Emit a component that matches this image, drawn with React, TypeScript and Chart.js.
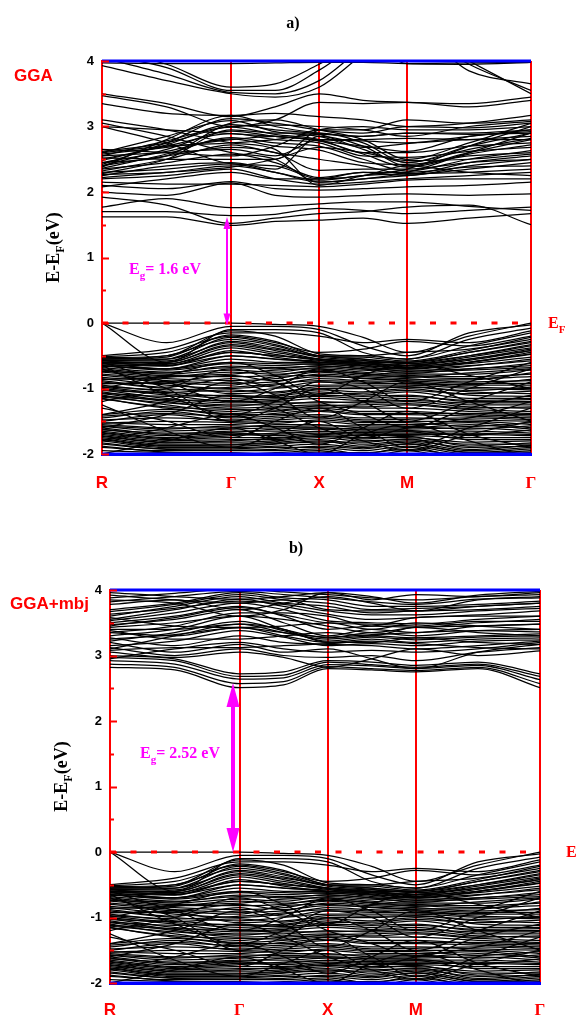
import React, { useEffect, useRef } from 'react';
import { Chart, registerables } from 'chart.js';

Chart.register(...registerables);

// k-path: high-symmetry points and the sample positions of every band
const K_POINTS = [0, 1.47, 2.47, 3.47, 4.88];
const K_LABELS = ['R', 'Γ', 'X', 'M', 'Γ'];
// samples: R, mid, Γ, mid, X, mid, M, mid, Γ
const K_SAMPLES = [0, 0.735, 1.47, 1.97, 2.47, 2.97, 3.47, 4.175, 4.88];
const E_MIN = -2;
const E_MAX = 4;
const E_FERMI = 0;

// valence bands (same in both panels)
const VALENCE_BANDS = [
  [0, 0, 0, -0.02, -0.05, -0.22, -0.45, -0.2, 0],
  [0, -0.3, -0.05, -0.05, -0.1, -0.35, -0.5, -0.15, -0.03],
  [0, -0.6, -0.1, -0.1, -0.15, -0.45, -0.55, -0.25, -0.08],
  [-0.5, -0.4, -0.15, -0.15, -0.2, -0.3, -0.25, -0.3, -0.12],
  [-0.52, -0.45, -0.2, -0.3, -0.45, -0.4, -0.28, -0.35, -0.2],
  [-0.55, -0.5, -0.25, -0.35, -0.5, -0.5, -0.45, -0.4, -0.25],
  [-0.55, -0.55, -0.3, -0.4, -0.5, -0.55, -0.6, -0.45, -0.3],
  [-0.6, -0.6, -0.35, -0.45, -0.55, -0.6, -0.6, -0.5, -0.35],
  [-0.6, -0.65, -0.45, -0.5, -0.55, -0.6, -0.65, -0.55, -0.4],
  [-0.65, -0.7, -0.5, -0.55, -0.6, -0.62, -0.7, -0.6, -0.45],
  [-0.53, -0.5, -0.12, -0.2, -0.47, -0.5, -0.55, -0.35, -0.15],
  [-0.55, -0.52, -0.18, -0.28, -0.5, -0.52, -0.58, -0.42, -0.22],
  [-0.57, -0.55, -0.22, -0.33, -0.5, -0.55, -0.6, -0.45, -0.28],
  [-0.58, -0.58, -0.28, -0.38, -0.52, -0.57, -0.62, -0.5, -0.33],
  [-0.6, -0.6, -0.33, -0.42, -0.55, -0.6, -0.65, -0.52, -0.38],
  [-0.62, -0.63, -0.38, -0.48, -0.57, -0.62, -0.67, -0.57, -0.42],
  [-0.64, -0.66, -0.42, -0.52, -0.6, -0.64, -0.7, -0.6, -0.47],
  [-0.58, -0.62, -0.45, -0.5, -0.55, -0.58, -0.62, -0.55, -0.42],
  [-0.6, -0.65, -0.5, -0.55, -0.58, -0.62, -0.65, -0.6, -0.48],
  [-0.62, -0.7, -0.55, -0.6, -0.6, -0.65, -0.68, -0.62, -0.52],
  [-0.65, -0.72, -0.62, -0.65, -0.62, -0.68, -0.7, -0.65, -0.58],
  [-0.66, -0.7, -0.6, -0.62, -0.63, -0.66, -0.74, -0.66, -0.55],
  [-0.68, -0.75, -0.68, -0.7, -0.65, -0.7, -0.72, -0.7, -0.62],
  [-0.7, -0.78, -0.72, -0.75, -0.68, -0.72, -0.75, -0.72, -0.68],
  [-0.72, -0.8, -0.78, -0.72, -0.7, -0.75, -0.78, -0.78, -0.72],
  [-0.74, -0.76, -0.66, -0.68, -0.66, -0.7, -0.77, -0.7, -0.65],
  [-0.75, -0.82, -0.82, -0.8, -0.72, -0.78, -0.8, -0.82, -0.78],
  [-0.78, -0.85, -0.88, -0.85, -0.75, -0.8, -0.82, -0.85, -0.82],
  [-0.8, -0.88, -0.92, -0.9, -0.78, -0.82, -0.85, -0.9, -0.88],
  [-0.83, -0.9, -0.95, -0.82, -0.8, -0.85, -0.88, -0.92, -0.92],
  [-0.86, -0.83, -0.75, -0.78, -0.74, -0.77, -0.83, -0.76, -0.7],
  [-0.85, -0.95, -1.0, -0.95, -0.85, -0.88, -0.9, -0.95, -0.95],
  [-0.88, -0.98, -0.85, -0.98, -0.9, -0.92, -0.92, -0.98, -1.0],
  [-0.9, -1.0, -1.05, -1.0, -0.95, -0.95, -0.95, -1.0, -1.02],
  [-0.93, -0.9, -0.8, -0.88, -0.82, -0.84, -0.87, -0.87, -0.76],
  [-0.92, -0.92, -1.08, -1.05, -1.0, -1.0, -0.98, -1.05, -1.08],
  [-0.95, -1.05, -1.12, -1.1, -1.02, -1.05, -1.0, -1.1, -1.12],
  [-0.97, -1.02, -0.98, -0.93, -0.88, -0.9, -0.93, -0.94, -0.86],
  [-0.98, -1.08, -1.15, -1.12, -1.05, -1.1, -1.05, -1.15, -1.15],
  [-1.0, -1.1, -1.2, -1.18, -1.1, -1.12, -1.1, -1.2, -1.2],
  [-1.03, -1.06, -1.02, -1.07, -0.97, -0.98, -0.97, -1.03, -0.98],
  [-1.02, -1.15, -1.22, -1.2, -1.15, -1.18, -1.15, -1.25, -1.25],
  [-1.05, -1.18, -1.25, -1.25, -1.2, -1.22, -1.2, -1.28, -1.3],
  [-1.07, -1.12, -1.1, -1.14, -1.08, -1.07, -1.03, -1.08, -1.04],
  [-1.08, -1.2, -1.3, -1.28, -1.25, -1.28, -1.25, -1.32, -1.35],
  [-1.1, -1.25, -1.35, -1.3, -1.28, -1.3, -1.3, -1.35, -1.38],
  [-1.12, -1.17, -1.18, -1.16, -1.12, -1.15, -1.12, -1.18, -1.17],
  [-1.13, -1.22, -1.27, -1.22, -1.22, -1.2, -1.18, -1.22, -1.22],
  [-1.15, -1.3, -1.38, -1.35, -1.3, -1.35, -1.35, -1.4, -1.42],
  [-1.16, -1.28, -1.32, -1.33, -1.26, -1.25, -1.23, -1.3, -1.28],
  [-1.4, -1.32, -1.4, -1.4, -1.35, -1.4, -1.4, -1.42, -1.45],
  [-1.42, -1.38, -1.43, -1.38, -1.33, -1.38, -1.38, -1.38, -1.4],
  [-1.45, -1.35, -1.45, -1.42, -1.4, -1.45, -1.45, -1.48, -1.5],
  [-1.48, -1.45, -1.48, -1.45, -1.42, -1.48, -1.47, -1.45, -1.47],
  [-1.5, -1.4, -1.5, -1.48, -1.45, -1.5, -1.5, -1.5, -1.55],
  [-1.52, -1.55, -1.55, -1.5, -1.5, -1.55, -1.55, -1.52, -1.6],
  [-1.53, -1.5, -1.52, -1.53, -1.48, -1.52, -1.52, -1.58, -1.52],
  [-1.55, -1.6, -1.6, -1.55, -1.55, -1.6, -1.6, -1.55, -1.62],
  [-1.57, -1.62, -1.57, -1.58, -1.57, -1.57, -1.58, -1.62, -1.57],
  [-1.58, -1.65, -1.62, -1.6, -1.6, -1.62, -1.62, -1.6, -1.65],
  [-1.6, -1.7, -1.65, -1.65, -1.62, -1.65, -1.65, -1.65, -1.68],
  [-1.62, -1.72, -1.68, -1.7, -1.65, -1.68, -1.68, -1.68, -1.7],
  [-1.63, -1.68, -1.67, -1.62, -1.6, -1.63, -1.64, -1.72, -1.63],
  [-1.65, -1.75, -1.7, -1.72, -1.68, -1.7, -1.7, -1.7, -1.72],
  [-1.67, -1.76, -1.72, -1.68, -1.66, -1.67, -1.66, -1.78, -1.78],
  [-1.68, -1.78, -1.75, -1.75, -1.7, -1.72, -1.72, -1.75, -1.75],
  [-1.7, -1.8, -1.78, -1.78, -1.72, -1.75, -1.75, -1.82, -1.8],
  [-1.72, -1.82, -1.82, -1.8, -1.75, -1.8, -1.78, -1.85, -1.85],
  [-1.73, -1.83, -1.8, -1.76, -1.73, -1.77, -1.73, -1.88, -1.83],
  [-1.75, -1.85, -1.85, -1.82, -1.78, -1.85, -1.8, -1.9, -1.88],
  [-1.77, -1.87, -1.86, -1.84, -1.82, -1.82, -1.77, -1.93, -1.87],
  [-1.78, -1.88, -1.88, -1.85, -1.8, -1.88, -1.82, -1.95, -1.9],
  [-1.8, -1.9, -1.9, -1.88, -1.85, -1.9, -1.85, -1.98, -1.92],
  [-1.83, -1.93, -1.94, -1.93, -1.88, -1.92, -1.84, -1.97, -1.97],
  [-1.85, -1.92, -1.92, -1.9, -1.9, -1.95, -1.88, -2.0, -1.95],
  [-1.88, -1.97, -1.98, -2.0, -1.97, -1.98, -1.93, -2.02, -2.0],
  [-1.9, -1.95, -1.95, -1.95, -1.92, -2.0, -1.9, -2.05, -1.98],
  [-1.95, -1.98, -2.0, -1.98, -1.95, -2.05, -1.95, -2.1, -2.02],
  [-0.6, -0.9, -1.2, -1.0, -0.7, -0.9, -1.2, -0.9, -0.6],
  [-1.0, -0.8, -0.6, -0.8, -1.1, -0.8, -0.62, -0.8, -1.0],
  [-1.3, -1.5, -1.75, -1.5, -1.3, -1.6, -1.9, -1.6, -1.3],
  [-1.8, -1.6, -1.4, -1.6, -1.85, -1.6, -1.35, -1.7, -1.9],
  [-0.7, -1.0, -1.5, -1.3, -1.0, -1.2, -1.5, -1.2, -0.9],
  [-1.2, -1.0, -0.7, -0.9, -1.2, -1.4, -1.6, -1.3, -1.1],
  [-1.6, -1.4, -1.1, -1.3, -1.6, -1.8, -1.95, -1.7, -1.5],
  [-2.0, -1.8, -1.6, -1.8, -2.0, -1.7, -1.55, -1.8, -2.05],
  [-0.65, -1.1, -1.4, -1.2, -0.9, -1.0, -1.3, -1.0, -0.7],
  [-1.4, -1.2, -0.9, -1.1, -1.45, -1.2, -0.9, -1.2, -1.5],
  [-1.25, -1.65, -1.9, -1.7, -1.5, -1.75, -1.6, -1.45, -1.2],
];

// conduction bands, GGA
const CONDUCTION_GGA = [
  [1.62, 1.62, 1.49, 1.55, 1.57, 1.6, 1.52, 1.6, 1.67],
  [1.92, 1.8, 1.52, 1.6, 1.67, 1.7, 1.77, 1.8, 1.5],
  [1.7, 1.7, 1.64, 1.66, 1.75, 1.72, 1.67, 1.72, 1.77],
  [1.77, 1.9, 1.76, 1.78, 1.82, 1.85, 1.85, 1.78, 1.72],
  [2.0, 1.95, 2.14, 1.95, 1.92, 1.95, 1.97, 1.95, 1.97],
  [2.1, 2.05, 2.16, 2.05, 2.03, 2.05, 2.08, 2.1, 2.15],
  [2.15, 2.12, 2.12, 2.1, 2.08, 2.12, 2.18, 2.2, 2.2],
  [2.2, 2.25, 2.35, 2.2, 2.12, 2.15, 2.2, 2.25, 2.3],
  [2.22, 2.3, 2.38, 2.5, 2.68, 2.6, 2.48, 2.5, 2.58],
  [2.27, 2.3, 2.4, 2.3, 2.15, 2.2, 2.25, 2.35, 2.45],
  [2.3, 2.35, 2.43, 2.3, 2.18, 2.25, 2.28, 2.3, 2.35],
  [2.32, 2.5, 2.72, 2.6, 2.5, 2.4, 2.27, 2.45, 2.55],
  [2.35, 2.45, 2.58, 2.45, 2.22, 2.3, 2.3, 2.38, 2.4],
  [2.36, 2.58, 2.83, 2.75, 2.7, 2.5, 2.32, 2.5, 2.63],
  [2.4, 2.55, 2.68, 2.6, 2.33, 2.35, 2.35, 2.45, 2.5],
  [2.4, 2.65, 2.93, 2.85, 2.78, 2.58, 2.38, 2.58, 2.72],
  [2.45, 2.62, 2.81, 2.7, 2.64, 2.45, 2.42, 2.55, 2.6],
  [2.48, 2.72, 3.03, 2.95, 2.88, 2.65, 2.45, 2.65, 2.82],
  [2.5, 2.7, 2.89, 2.8, 2.75, 2.55, 2.53, 2.62, 2.68],
  [2.52, 2.5, 2.5, 2.5, 2.95, 3.0, 2.95, 2.95, 3.0],
  [2.55, 2.78, 2.99, 2.88, 2.8, 2.6, 2.6, 2.7, 2.75],
  [2.58, 2.68, 2.8, 2.85, 2.78, 2.7, 2.62, 2.85, 2.92],
  [2.6, 2.85, 3.09, 2.92, 2.85, 2.68, 2.74, 2.8, 2.85],
  [2.62, 2.75, 3.0, 3.02, 3.0, 2.95, 2.85, 3.0, 3.08],
  [2.38, 2.8, 3.17, 3.0, 2.9, 2.85, 2.9, 2.9, 2.95],
  [2.42, 2.75, 3.12, 3.05, 2.95, 2.9, 3.0, 2.98, 3.05],
  [2.65, 2.6, 2.55, 2.7, 2.95, 2.95, 3.1, 3.05, 3.1],
  [3.0, 2.75, 2.43, 2.4, 2.2, 2.3, 2.25, 2.4, 2.5],
  [3.05, 2.85, 2.6, 2.5, 2.15, 2.2, 2.3, 2.6, 2.9],
  [3.1, 2.95, 2.75, 2.65, 2.1, 2.25, 2.35, 2.7, 3.0],
  [2.25, 2.4, 2.45, 2.35, 2.85, 2.7, 2.4, 2.6, 2.8],
  [2.28, 2.5, 2.95, 2.9, 2.9, 2.75, 2.45, 2.7, 2.9],
  [2.45, 2.55, 3.05, 3.1, 2.95, 2.8, 2.5, 2.75, 3.05],
  [3.35, 3.2, 3.17, 3.2, 3.15, 3.1, 3.0, 3.05, 3.17],
  [3.47, 3.3, 3.0, 3.1, 3.37, 3.35, 3.37, 3.3, 3.4],
  [3.5, 3.35, 3.15, 3.3, 3.5, 3.4, 3.37, 3.35, 3.45],
  [3.93, 3.7, 3.5, 3.45, 3.6, 4.1, 4.5, 4.0, 3.5],
  [4.05, 3.8, 3.52, 3.5, 3.7, 4.2, 4.5, 3.95, 3.55],
  [4.1, 3.9, 3.55, 3.55, 3.86, 4.3, 4.5, 3.85, 3.65],
  [4.2, 3.95, 3.6, 3.65, 3.95, 4.3, 3.96, 3.95, 3.98],
  [3.97, 3.96, 3.96, 3.97, 3.98, 3.98, 3.96, 3.97, 3.98],
  [3.0, 2.95, 2.89, 2.85, 2.8, 2.78, 2.75, 2.85, 2.95],
  [2.08, 2.2, 2.3, 2.2, 2.2, 2.25, 2.4, 2.3, 2.25],
  [2.55, 2.6, 2.65, 2.55, 2.8, 2.8, 2.82, 2.8, 2.8],
  [2.6, 2.7, 2.75, 2.8, 2.88, 2.85, 2.9, 2.88, 2.9],
];

// conduction bands, GGA+mbj
const CONDUCTION_MBJ = [
  [2.82, 2.78, 2.51, 2.55, 2.8, 2.78, 2.75, 2.8, 2.51],
  [2.87, 2.82, 2.57, 2.6, 2.83, 2.8, 2.77, 2.82, 2.57],
  [2.92, 2.87, 2.64, 2.66, 2.86, 2.84, 2.8, 2.85, 2.63],
  [2.97, 2.92, 2.68, 2.7, 2.9, 2.86, 2.82, 2.87, 2.68],
  [3.0, 2.95, 2.72, 2.75, 2.92, 2.9, 2.85, 2.9, 2.72],
  [2.95, 3.1, 3.2, 3.1, 3.05, 3.08, 3.05, 3.1, 3.2],
  [3.05, 2.97, 3.05, 2.97, 2.82, 2.95, 3.1, 3.0, 3.07],
  [3.08, 3.12, 3.12, 3.15, 3.18, 3.22, 3.18, 3.12, 3.1],
  [3.12, 3.0, 3.1, 3.0, 2.97, 3.0, 2.92, 3.05, 3.12],
  [3.15, 3.22, 3.38, 3.28, 3.15, 3.18, 3.15, 3.22, 3.24],
  [3.2, 3.05, 3.17, 3.05, 3.1, 2.95, 2.8, 3.05, 3.17],
  [3.22, 3.35, 3.52, 3.38, 3.22, 3.28, 3.24, 3.28, 3.3],
  [3.25, 3.32, 3.42, 3.35, 3.28, 3.32, 3.35, 3.38, 3.36],
  [3.27, 3.15, 3.3, 3.2, 3.17, 3.15, 3.1, 3.15, 3.22],
  [3.35, 3.3, 3.43, 3.3, 3.2, 3.25, 3.2, 3.25, 3.27],
  [3.4, 3.4, 3.48, 3.35, 3.25, 3.3, 3.27, 3.3, 3.33],
  [3.43, 3.5, 3.6, 3.4, 3.27, 3.35, 3.3, 3.38, 3.4],
  [3.45, 3.58, 3.73, 3.62, 3.5, 3.48, 3.45, 3.52, 3.52],
  [3.47, 3.55, 3.7, 3.5, 3.3, 3.4, 3.35, 3.45, 3.48],
  [3.5, 3.6, 3.75, 3.6, 3.4, 3.45, 3.43, 3.5, 3.55],
  [3.53, 3.65, 3.8, 3.7, 3.53, 3.5, 3.48, 3.55, 3.6],
  [3.55, 3.7, 3.86, 3.75, 3.63, 3.55, 3.58, 3.62, 3.68],
  [3.6, 3.75, 3.9, 3.8, 3.75, 3.65, 3.68, 3.7, 3.75],
  [3.63, 3.72, 3.83, 3.78, 3.68, 3.62, 3.62, 3.68, 3.72],
  [3.67, 3.78, 3.93, 3.85, 3.8, 3.7, 3.72, 3.75, 3.8],
  [3.7, 3.8, 3.96, 3.88, 3.85, 3.75, 3.75, 3.78, 3.83],
  [3.78, 3.85, 3.7, 3.8, 3.9, 3.8, 3.68, 3.85, 3.9],
  [3.82, 3.9, 3.98, 3.93, 3.88, 3.82, 3.78, 3.86, 3.88],
  [3.85, 3.8, 3.6, 3.7, 3.96, 3.85, 3.93, 3.9, 3.96],
  [3.88, 3.95, 4.02, 3.97, 3.93, 3.88, 3.85, 3.9, 3.93],
  [3.96, 3.9, 3.86, 3.9, 3.96, 3.9, 3.8, 3.92, 3.98],
  [3.3, 3.4, 3.6, 3.55, 3.45, 3.35, 3.43, 3.45, 3.48],
  [3.35, 3.45, 3.65, 3.65, 3.6, 3.45, 3.58, 3.6, 3.6],
  [3.1, 3.3, 3.48, 3.4, 3.2, 3.2, 3.27, 3.2, 3.17],
  [3.38, 3.25, 3.25, 3.3, 3.35, 3.3, 3.43, 3.35, 3.3],
  [3.58, 3.45, 3.43, 3.45, 3.5, 3.4, 3.5, 3.45, 3.4],
  [3.92, 3.85, 3.8, 3.85, 3.7, 3.68, 3.68, 3.75, 3.8],
];

// band-gap arrows: [k position, lower energy, upper energy]
const GAP_GGA = [1.422, -0.04, 1.62];
const GAP_MBJ = [1.396, 0, 2.58];
const GAP_TEXT_GGA = '= 1.6 eV';
const GAP_TEXT_MBJ = '= 2.52 eV';

const SERIF = '"Liberation Serif", "Times New Roman", serif';
const SANS = '"Liberation Sans", Arial, sans-serif';

type Part = [string, boolean];

function drawRich(ctx: CanvasRenderingContext2D, parts: Part[], x: number, y: number, size: number, family: string, color: string, align: 'left' | 'center' = 'left') {
  ctx.save();
  ctx.fillStyle = color;
  ctx.textBaseline = 'alphabetic';
  ctx.textAlign = 'left';
  const subSize = Math.round(size * 0.68);
  let total = 0;
  for (const [t, sub] of parts) {
    ctx.font = `bold ${sub ? subSize : size}px ${family}`;
    total += ctx.measureText(t).width;
  }
  let cx = align === 'center' ? x - total / 2 : x;
  for (const [t, sub] of parts) {
    ctx.font = `bold ${sub ? subSize : size}px ${family}`;
    ctx.fillText(t, cx, sub ? y + size * 0.3 : y);
    cx += ctx.measureText(t).width;
  }
  ctx.restore();
}

function drawArrow(ctx: CanvasRenderingContext2D, x: number, yTop: number, yBot: number, lw: number, hw: number, hl: number, color: string) {
  ctx.save();
  ctx.strokeStyle = color;
  ctx.fillStyle = color;
  ctx.lineWidth = lw;
  ctx.beginPath();
  ctx.moveTo(x, yTop + hl * 0.8);
  ctx.lineTo(x, yBot - hl * 0.8);
  ctx.stroke();
  ctx.beginPath();
  ctx.moveTo(x, yTop);
  ctx.lineTo(x - hw / 2, yTop + hl);
  ctx.lineTo(x + hw / 2, yTop + hl);
  ctx.closePath();
  ctx.fill();
  ctx.beginPath();
  ctx.moveTo(x, yBot);
  ctx.lineTo(x - hw / 2, yBot - hl);
  ctx.lineTo(x + hw / 2, yBot - hl);
  ctx.closePath();
  ctx.fill();
  ctx.restore();
}

interface PanelCfg {
  title: string; titleX: number; titleY: number;
  method: string; methodX: number; methodY: number;
  conduction: number[][];
  gap: number[]; gapText: string; gapX: number; gapY: number;
  shaft: number; headW: number; headL: number;
  efX: number;
  width: number; height: number; top: number;
  axisH: number; labelPad: number;
  pad: { left: number; right: number; top: number; bottom: number };
}

const PANELS: PanelCfg[] = [
  {
    title: 'a)', titleX: 293, titleY: 28,
    method: 'GGA', methodX: 14, methodY: 81,
    conduction: CONDUCTION_GGA,
    gap: GAP_GGA, gapText: GAP_TEXT_GGA, gapX: 129, gapY: 274,
    shaft: 2, headW: 7, headL: 12,
    efX: 548,
    width: 577, height: 508, top: 0,
    axisH: 44, labelPad: 19,
    pad: { left: 62, right: 46, top: 61, bottom: 10 },
  },
  {
    title: 'b)', titleX: 296, titleY: 45,
    method: 'GGA+mbj', methodX: 10, methodY: 101,
    conduction: CONDUCTION_MBJ,
    gap: GAP_MBJ, gapText: GAP_TEXT_MBJ, gapX: 140, gapY: 250,
    shaft: 4, headW: 13, headL: 24,
    efX: 566,
    width: 577, height: 509, top: 508,
    axisH: 34, labelPad: 17,
    pad: { left: 70, right: 37, top: 82, bottom: 0 },
  },
];

function makeChart(canvas: HTMLCanvasElement, p: PanelCfg) {
  const bands = [...VALENCE_BANDS, ...p.conduction];
  const datasets: any[] = [
    {
      data: [{ x: K_POINTS[0], y: E_FERMI }, { x: K_POINTS[K_POINTS.length - 1], y: E_FERMI }],
      borderColor: '#ff0000', borderWidth: 3, borderDash: [6, 14.5], order: -1,
      cubicInterpolationMode: 'default', tension: 0,
    },
    ...bands.map((b) => ({
      data: b.map((y, i) => ({ x: K_SAMPLES[i], y })),
      borderColor: '#000000', borderWidth: 1.25, order: 1,
    })),
  ];

  const decor = {
    id: 'decor',
    afterDatasetsDraw(chart: any) {
      const { ctx, chartArea: a, scales } = chart;
      const ys = scales.y;
      ctx.save();
      // top and bottom frame (blue)
      ctx.strokeStyle = '#0000ff';
      ctx.lineWidth = 3;
      ctx.beginPath();
      ctx.moveTo(a.left, a.top);
      ctx.lineTo(a.right, a.top);
      ctx.moveTo(a.left, a.bottom);
      ctx.lineTo(a.right, a.bottom);
      ctx.stroke();
      // inward ticks on the left axis
      ctx.strokeStyle = '#ff0000';
      ctx.lineWidth = 2;
      for (let v = E_MIN; v <= E_MAX + 1e-9; v += 0.5) {
        const y = Math.round(ys.getPixelForValue(v)) + 0.5;
        const len = Math.abs(v - Math.round(v)) < 1e-6 ? 7 : 4;
        ctx.beginPath();
        ctx.moveTo(a.left, y);
        ctx.lineTo(a.left + len, y);
        ctx.stroke();
      }
      ctx.restore();
      // gap arrow
      const [gk, g0, g1] = p.gap;
      drawArrow(ctx, scales.x.getPixelForValue(gk), ys.getPixelForValue(g1), ys.getPixelForValue(g0), p.shaft, p.headW, p.headL, '#ff00ff');
    },
    afterDraw(chart: any) {
      const { ctx, chartArea: a, scales } = chart;
      const y0 = scales.y.getPixelForValue(E_FERMI);
      drawRich(ctx, [[p.title, false]], p.titleX, p.titleY, 16, SERIF, '#000000', 'center');
      drawRich(ctx, [[p.method, false]], p.methodX, p.methodY, 17, SANS, '#ff0000');
      drawRich(ctx, [['E', false], ['g', true], [p.gapText, false]], p.gapX, p.gapY, 16, SERIF, '#ff00ff');
      drawRich(ctx, [['E', false], ['F', true]], p.efX, y0 + 5, 16, SERIF, '#ff0000');
      // y-axis title, rotated
      ctx.save();
      ctx.translate(a.left - 43, (a.top + a.bottom) / 2 - 10);
      ctx.rotate(-Math.PI / 2);
      drawRich(ctx, [['E-E', false], ['F', true], ['(eV)', false]], 0, 0, 18, SERIF, '#000000', 'center');
      ctx.restore();
    },
  };

  return new Chart(canvas, {
    type: 'line',
    data: { datasets },
    options: {
      responsive: false,
      animation: false,
      events: [],
      layout: { padding: p.pad },
      elements: {
        point: { radius: 0 },
        line: { cubicInterpolationMode: 'monotone', fill: false },
      },
      plugins: { legend: { display: false }, tooltip: { enabled: false }, title: { display: false } },
      scales: {
        x: {
          type: 'linear',
          min: K_POINTS[0],
          max: K_POINTS[K_POINTS.length - 1],
          afterBuildTicks: (s: any) => { s.ticks = K_POINTS.map((v) => ({ value: v })); },
          afterFit: (s: any) => { s.height = p.axisH; },
          grid: { color: '#ff0000', lineWidth: 2, drawTicks: false },
          border: { display: true, color: '#0000ff', width: 3 },
          ticks: {
            autoSkip: false,
            maxRotation: 0,
            padding: p.labelPad,
            color: '#ff0000',
            callback: (_v: any, i: number) => K_LABELS[i],
            font: (c: any) => ({
              family: K_LABELS[c.index] === 'Γ' ? SERIF : SANS,
              size: 17,
              weight: 'bold',
            }),
          },
        },
        y: {
          min: E_MIN,
          max: E_MAX,
          afterFit: (s: any) => { s.width = 40; },
          grid: { display: false, drawTicks: false },
          border: { display: true, color: '#ff0000', width: 2 },
          ticks: {
            stepSize: 1,
            padding: 8,
            color: '#000000',
            font: { family: SANS, size: 13, weight: 'bold' },
          },
        },
      },
    } as any,
    plugins: [decor],
  });
}

export default function App() {
  const refA = useRef<HTMLCanvasElement>(null);
  const refB = useRef<HTMLCanvasElement>(null);

  useEffect(() => {
    const charts: Chart[] = [];
    if (refA.current) charts.push(makeChart(refA.current, PANELS[0]));
    if (refB.current) charts.push(makeChart(refB.current, PANELS[1]));
    return () => charts.forEach((c) => c.destroy());
  }, []);

  const refs = [refA, refB];
  return (
    <div style={{ position: 'absolute', left: 0, top: 0, width: 577, height: 1017, background: '#fff', overflow: 'hidden' }}>
      {PANELS.map((p, i) => (
        <canvas
          key={i}
          ref={refs[i]}
          width={p.width}
          height={p.height}
          style={{ position: 'absolute', left: 0, top: p.top, width: p.width, height: p.height, display: 'block' }}
        />
      ))}
    </div>
  );
}
